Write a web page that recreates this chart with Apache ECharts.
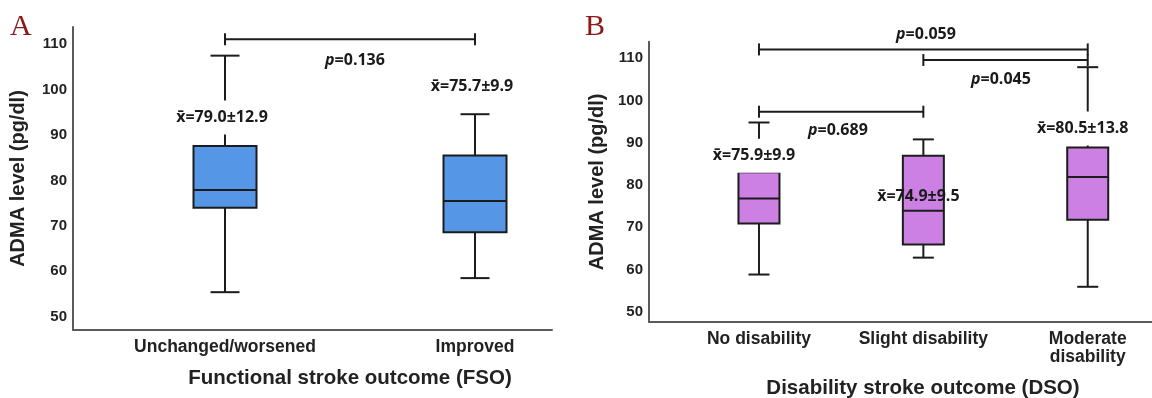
<!DOCTYPE html>
<html><head><meta charset="utf-8">
<script src="https://cdn.jsdelivr.net/npm/echarts@6/dist/echarts.min.js"></script>
<style>html,body{margin:0;padding:0;background:#fff}#c{width:1152px;height:398px}</style>
</head><body><div id="c"></div>
<script>
// ---- data ----
const yTicks = [50, 60, 70, 80, 90, 100, 110];
// Panel A: Functional stroke outcome (FSO)
const fsoCategories = ['Unchanged/worsened', 'Improved'];
// [min, Q1, median, Q3, max]
const fsoBoxes = [
  [55.4, 74.0, 77.9, 87.6, 107.5],
  [58.5, 68.6, 75.5, 85.5, 94.6]
];
const fsoMeanText = ['x̄=79.0±12.9', 'x̄=75.7±9.9'];
const fsoMeanAnchorY = [93.9, 100.7];
// [from category, to category, level]
const fsoTests = [[1, 2, 111.1]];
const fsoPValues = ['0.136'];
const fsoPAnchor = [[1.52, 106.5]];

// Panel B: Disability stroke outcome (DSO)
const dsoCategories = ['No disability', 'Slight disability', 'Moderate\ndisability'];
const dsoBoxes = [
  [58.8, 70.9, 76.8, 83.0, 94.8],
  [62.8, 65.9, 73.9, 86.9, 90.8],
  [55.9, 71.8, 81.9, 88.9, 107.9]
];
const dsoMeanText = ['x̄=75.9±9.9', 'x̄=74.9±9.5', 'x̄=80.5±13.8'];
const dsoMeanAnchorY = [86.9, 77.2, 93.4];
const dsoTests = [[1, 3, 112.1], [2, 3, 109.6], [1, 2, 97.35]];
const dsoPValues = ['0.059', '0.045', '0.689'];
const dsoPAnchor = [[2.016, 115.7], [2.472, 105.1], [1.48, 93.0]];

// ---- styles ----
const INK = '#1c1c1c';
const AXIS = '#5a5a5a';
const SANS = '"Liberation Sans", Arial, sans-serif';
const NOTE = '"Open Sans", sans-serif';

function boxRenderer(boxW, capW, fill) {
  return function (params, api) {
    const x = api.value(0);
    const pt = i => api.coord([x, api.value(i)]);
    const lo = pt(1), q1 = pt(2), md = pt(3), q3 = pt(4), hi = pt(5);
    const cx = lo[0];
    const ls = { stroke: INK, lineWidth: 2 };
    return {
      type: 'group', children: [
        { type: 'line', shape: { x1: cx, y1: q3[1], x2: cx, y2: hi[1] }, style: ls },
        { type: 'line', shape: { x1: cx, y1: q1[1], x2: cx, y2: lo[1] }, style: ls },
        { type: 'line', shape: { x1: cx - capW / 2, y1: hi[1], x2: cx + capW / 2, y2: hi[1] }, style: ls },
        { type: 'line', shape: { x1: cx - capW / 2, y1: lo[1], x2: cx + capW / 2, y2: lo[1] }, style: ls },
        { type: 'rect', shape: { x: cx - boxW / 2, y: q3[1], width: boxW, height: q1[1] - q3[1] },
          style: { fill: fill, stroke: INK, lineWidth: 2 } },
        { type: 'line', shape: { x1: cx - boxW / 2, y1: md[1], x2: cx + boxW / 2, y2: md[1] }, style: ls }
      ]
    };
  };
}

function meanRenderer(texts, opaque, dx) {
  return function (params, api) {
    const c = api.coord([api.value(0), api.value(1)]);
    const i = params.dataIndex;
    return {
      type: 'text', z2: 10,
      style: {
        text: texts[i], x: c[0] + dx, y: c[1], align: 'center', verticalAlign: 'middle',
        fill: '#1a1a1a', font: 'bold 16px ' + NOTE,
        backgroundColor: opaque[i] ? '#ffffff' : null, padding: [9, 2]
      }
    };
  };
}

function bracketRenderer(params, api) {
  const a = api.coord([api.value(0), api.value(2)]);
  const b = api.coord([api.value(1), api.value(2)]);
  const ls = { stroke: INK, lineWidth: 2 };
  return {
    type: 'group', children: [
      { type: 'line', shape: { x1: a[0], y1: a[1], x2: b[0], y2: b[1] }, style: ls },
      { type: 'line', shape: { x1: a[0], y1: a[1] - 6, x2: a[0], y2: a[1] + 6 }, style: ls },
      { type: 'line', shape: { x1: b[0], y1: b[1] - 6, x2: b[0], y2: b[1] + 6 }, style: ls }
    ]
  };
}

function pRenderer(pvals) {
  return function (params, api) {
    const c = api.coord([api.value(0), api.value(1)]);
    return {
      type: 'text', z2: 10,
      style: {
        text: '{i|p}=' + pvals[params.dataIndex], x: c[0], y: c[1],
        align: 'center', verticalAlign: 'middle', fill: '#1a1a1a',
        font: 'bold 16px ' + NOTE,
        rich: { i: { fontStyle: 'italic', fontWeight: 'bold', fontSize: 16, fontFamily: NOTE, fill: '#1a1a1a' } }
      }
    };
  };
}

function xAxisCfg(grid, min, max, cats) {
  return {
    type: 'value', gridIndex: grid, min: min, max: max,
    axisLine: { show: true, lineStyle: { color: AXIS, width: 2 } },
    axisTick: { show: false }, splitLine: { show: false },
    axisLabel: {
      customValues: cats.map((c, i) => i + 1),
      formatter: v => cats[Math.round(v) - 1] || '',
      color: '#222', fontFamily: SANS, fontWeight: 'bold', fontSize: 17.5,
      margin: 8, lineHeight: 18
    }
  };
}
function yAxisCfg(grid, min, max, gap) {
  return {
    type: 'value', gridIndex: grid, min: min, max: max,
    name: 'ADMA level (pg/dl)', nameLocation: 'middle', nameGap: gap, nameRotate: 90,
    nameTextStyle: { fontFamily: SANS, fontWeight: 'bold', fontSize: 20, color: '#222' },
    axisLine: { show: true, lineStyle: { color: AXIS, width: 2 } },
    axisTick: { show: false }, splitLine: { show: false },
    axisLabel: { customValues: yTicks, color: '#222', fontFamily: SANS, fontWeight: 'bold', fontSize: 15, margin: 6 }
  };
}

const chart = echarts.init(document.getElementById('c'), null, { renderer: 'canvas' });
chart.setOption({
  backgroundColor: '#ffffff',
  animation: false,
  grid: [
    { left: 73, right: 600, top: 27, bottom: 68, outerBoundsMode: 'none' },
    { left: 649, right: 0, top: 41.7, bottom: 76, outerBoundsMode: 'none' }
  ],
  xAxis: [
    xAxisCfg(0, 0.392, 2.308, fsoCategories),
    xAxisCfg(1, 0.331, 3.391, dsoCategories)
  ],
  yAxis: [
    yAxisCfg(0, 47.07, 113.81, 45),
    yAxisCfg(1, 47.56, 113.93, 42)
  ],
  graphic: [
    { type: 'text', left: 10, top: 12, style: { text: 'A', font: '30px "Liberation Serif", serif', fill: '#8b1a1a' } },
    { type: 'text', left: 585, top: 12, style: { text: 'B', font: '30px "Liberation Serif", serif', fill: '#8b1a1a' } },
    { type: 'text', x: 350, y: 378, style: { text: 'Functional stroke outcome (FSO)', align: 'center', verticalAlign: 'middle', font: 'bold 20.5px ' + SANS, fill: '#222' } },
    { type: 'text', x: 923, y: 388, style: { text: 'Disability stroke outcome (DSO)', align: 'center', verticalAlign: 'middle', font: 'bold 20.5px ' + SANS, fill: '#222' } }
  ],
  series: [
    { type: 'custom', xAxisIndex: 0, yAxisIndex: 0, renderItem: boxRenderer(63, 29, '#5596e6'),
      encode: { x: 0, y: [1, 2, 3, 4, 5] }, data: fsoBoxes.map((b, i) => [i + 1].concat(b)), z: 2 },
    { type: 'custom', xAxisIndex: 0, yAxisIndex: 0, renderItem: meanRenderer(fsoMeanText, [true, true], -3),
      encode: { x: 0, y: 1 }, data: fsoMeanAnchorY.map((y, i) => [i + 1, y]), z: 3 },
    { type: 'custom', xAxisIndex: 0, yAxisIndex: 0, renderItem: bracketRenderer,
      encode: { x: [0, 1], y: 2 }, data: fsoTests, z: 4 },
    { type: 'custom', xAxisIndex: 0, yAxisIndex: 0, renderItem: pRenderer(fsoPValues),
      encode: { x: 0, y: 1 }, data: fsoPAnchor, z: 4 },

    { type: 'custom', xAxisIndex: 1, yAxisIndex: 1, renderItem: boxRenderer(41, 21, '#cc80e3'),
      encode: { x: 0, y: [1, 2, 3, 4, 5] }, data: dsoBoxes.map((b, i) => [i + 1].concat(b)), z: 2 },
    { type: 'custom', xAxisIndex: 1, yAxisIndex: 1, renderItem: meanRenderer(dsoMeanText, [true, false, true], -5),
      encode: { x: 0, y: 1 }, data: dsoMeanAnchorY.map((y, i) => [i + 1, y]), z: 3 },
    { type: 'custom', xAxisIndex: 1, yAxisIndex: 1, renderItem: bracketRenderer,
      encode: { x: [0, 1], y: 2 }, data: dsoTests, z: 4 },
    { type: 'custom', xAxisIndex: 1, yAxisIndex: 1, renderItem: pRenderer(dsoPValues),
      encode: { x: 0, y: 1 }, data: dsoPAnchor, z: 4 }
  ]
});
</script></body></html>
